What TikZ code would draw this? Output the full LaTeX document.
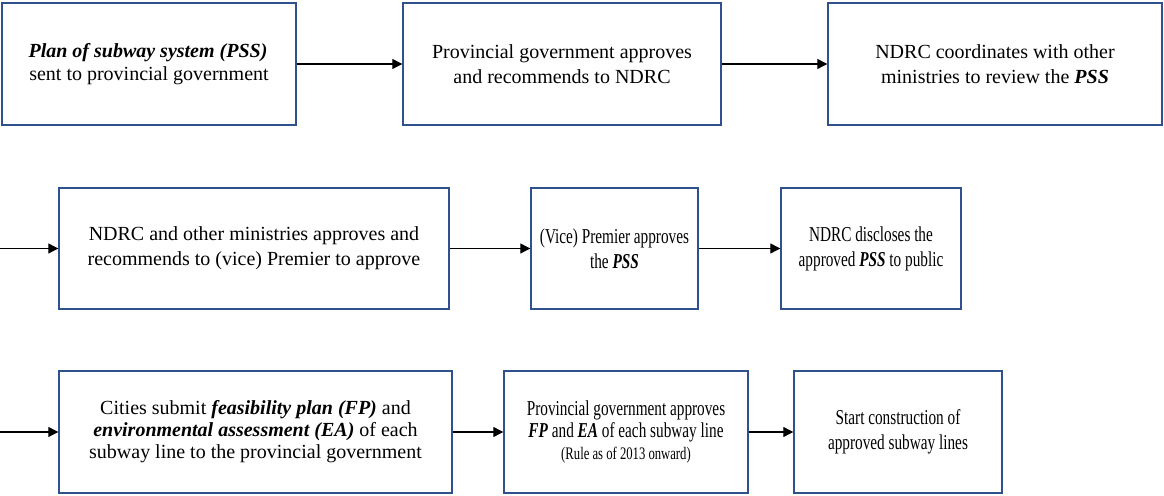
\documentclass[tikz,border=0pt]{standalone}
\usepackage{fontspec}
\setmainfont{Liberation Serif}
\newfontfamily\narrowfont[FakeStretch=0.72]{Liberation Serif}
\usepackage{tikz}
\usetikzlibrary{positioning,calc}
\usetikzlibrary{arrows.meta}
\definecolor{BoxBlue}{RGB}{47,82,143}
\tikzset{
  stepbox/.style={rectangle,draw=BoxBlue,line width=0.7pt,fill=white,align=center,
    inner sep=3pt,font=\fontsize{10}{12.5}\selectfont},
  narrow/.style={font=\narrowfont\fontsize{10.6}{12.5}\selectfont},
  flow/.style={draw=black,line width=0.6pt,-{Triangle[length=5pt,width=5pt]}},
}
\newcommand{\bi}[1]{\textbf{\textit{#1}}}

\begin{document}
\begin{tikzpicture}[x=0.5pt,y=-0.5pt]
\useasboundingbox (0,0) rectangle (1164,496);
\coordinate (in4) at (0,248.5);
\coordinate (in7) at (0,432);
% row 1
\node[stepbox,minimum width=147pt,minimum height=61pt,font=\fontsize{10}{11.5}\selectfont] (s1) at (149,64)
  {\bi{\kern-1pt Plan of subway system (PSS)}\\ sent to provincial government};
\node[stepbox,minimum width=159pt,minimum height=61pt] (s2) at (562,64)
  {Provincial government approves\\ and recommends to NDRC};
\node[stepbox,minimum width=167pt,minimum height=61pt] (s3) at (995,64)
  {NDRC coordinates with other\\ ministries to review the \bi{PSS}};
% row 2
\node[stepbox,minimum width=195pt,minimum height=60.5pt] (s4) at (254,248.5)
  {NDRC and other ministries approves and\\ recommends to (vice) Premier to approve};
\node[stepbox,narrow,minimum width=83.5pt,minimum height=60.5pt] (s5) at (614.5,248.5)
  {(Vice) Premier approves\\ the \bi{PSS}};
\node[stepbox,narrow,minimum width=90pt,minimum height=60.5pt] (s6) at (871,248.5)
  {NDRC discloses the\\ approved \bi{PSS} to public};
% row 3
\node[stepbox,minimum width=196.5pt,minimum height=61pt,font=\fontsize{10}{11}\selectfont] (s7) at (255.5,432)
  {Cities submit \bi{feasibility plan (FP)} and\\ \bi{environmental assessment (EA)} of each\\ subway line to the provincial government};
\node[stepbox,minimum width=122pt,minimum height=61pt,font=\narrowfont\fontsize{10.6}{10.8}\selectfont] (s8) at (626,432)
  {Provincial government approves\\ \bi{FP} and \bi{EA} of each subway line\\ {\fontsize{8.8}{9.8}\selectfont (Rule as of 2013 onward)}};
\node[stepbox,narrow,minimum width=104pt,minimum height=61pt] (s9) at (898,432)
  {Start construction of\\ approved subway lines};
% arrows
\draw[flow] (s1) -- (s2);
\draw[flow] (s2) -- (s3);
\draw[flow] (in4) -- (s4);
\draw[flow] (s4) -- (s5);
\draw[flow] (s5) -- (s6);
\draw[flow] (in7) -- (s7);
\draw[flow] (s7) -- (s8);
\draw[flow] (s8) -- (s9);
\end{tikzpicture}
\end{document}
